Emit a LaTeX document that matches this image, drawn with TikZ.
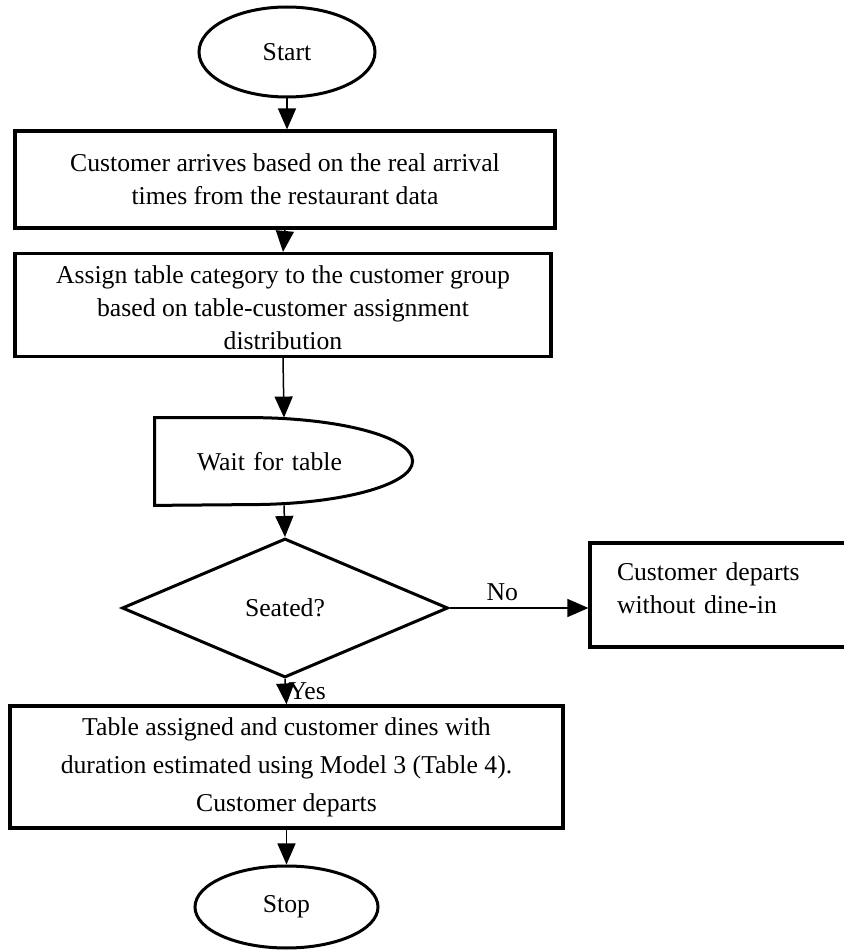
\documentclass[tikz,border=0pt]{standalone}
\usepackage{fontspec}
\setmainfont{Liberation Serif}
\usetikzlibrary{shapes.geometric,arrows.meta}
\begin{document}
\begin{tikzpicture}[x=0.5pt,y=0.5pt]
	\tikzset{
	terminal/.style={draw,ellipse,line width=1.5pt,inner sep=0pt},
	process/.style={draw,rectangle,line width=1.6pt,align=center,inner sep=0pt},
	decision/.style={draw,diamond,line width=1.5pt,minimum width=163pt,minimum height=69.5pt,inner sep=0pt},
	flow/.style={line width=0.75pt,-{Triangle[length=10.5pt,width=9pt]}},
	every node/.style={font=\fontsize{12.85}{16.5}\selectfont}
	}
	\fill[white] (0,0) rectangle (844,950);
	\useasboundingbox (0,0) rectangle (844,950);

	%NODES
	\node[terminal,minimum width=88pt,minimum height=45pt] (start) at (287,898) {Start};
	\node[process,minimum width=270pt,minimum height=48.5pt] (arrive) at (285,770.5)
	{Customer arrives based on the real arrival\\times from the restaurant data};
	\node[process,minimum width=268pt,minimum height=51.5pt,text height=45pt] (assign) at (283,645)
	{Assign table category to the customer group\\based on table-customer assignment\\distribution};
	\node[minimum height=43.5pt,text width=87pt,inner xsep=21pt,inner ysep=0pt,align=left] (wait) at (284,488.5) {Wait for table};
	\draw[line width=1.5pt] (wait.north west) -- ++(95,0)
	arc[start angle=90,end angle=-90,x radius=163,y radius=43.5] -- (wait.south west) -- cycle;
	\node[decision] (dia) at (285,342) {Seated?};
	\node[process,minimum width=129pt,minimum height=52pt,text width=102pt,inner xsep=13.5pt,align=left,text depth=23.5pt] (nodine) at (719,355)
	{Customer departs\\without dine-in};
	\node[process,minimum width=276.5pt,minimum height=61pt,font=\fontsize{12.85}{19}\selectfont] (table) at (286.5,183)
	{Table assigned and customer dines with\\duration estimated using Model 3 (Table 4).\\Customer departs};
	\node[terminal,minimum width=91.5pt,minimum height=41pt] (stop) at (286.5,43) {Stop};

	%ARROWS
	\draw[flow] (start.south) -- (start.south |- arrive.north);
	\draw[flow] (arrive.south) -- (assign.north);
	\draw[flow] (assign.south) -- (wait.north);
	\draw[flow] (wait.south) -- (dia.north);
	\draw[flow] (dia.east) -- node[above,pos=0.38]{No} (dia.east -| nodine.west);
	\draw[flow] (dia.south) -- node[right,pos=0.5,inner sep=1pt]{Yes} (table.north);
	\draw[flow] (table.south) -- (stop.north);
\end{tikzpicture}
\end{document}
